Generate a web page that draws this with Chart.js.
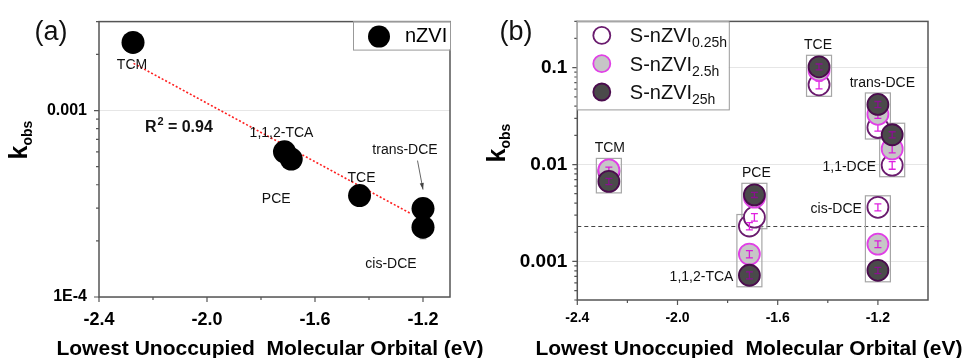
<!DOCTYPE html>
<html><head><meta charset="utf-8">
<script src="https://cdn.jsdelivr.net/npm/chart.js@4.4.0/dist/chart.umd.min.js"></script>
<style>
html,body{margin:0;padding:0;background:#fff;width:968px;height:358px;overflow:hidden}
canvas{position:absolute;left:0;top:0}
</style></head><body>
<canvas id="ca" width="968" height="358"></canvas>
<canvas id="cb" width="968" height="358"></canvas>
<script>
// ---------- Panel (a): nZVI ----------
const compoundsA = ['TCM', '1,1,2-TCA', 'PCE', 'TCE', 'trans-DCE', 'cis-DCE'];
const lumoA = [-2.274, -1.713, -1.688, -1.435, -1.2, -1.2];
const kNZVI = [0.00232, 0.000601, 0.000549, 0.00035, 0.000298, 0.000237];
const errNZVI = [0.00008, 0.00002, 0.00002, 0.00001, 0.00001, 0.000032];
const fitX = [-2.272, -1.243];
const fitY = [0.00179, 0.000279];
const r2Text = '0.94';
const xTicksA = [-2.4, -2.0, -1.6, -1.2];
const xMinorA = [-2.2, -1.8, -1.4];
const yTicksA = [0.0001, 0.001];
const yTickLabelsA = ['1E-4', '0.001'];

// ---------- Panel (b): S-nZVI ----------
const compoundsB = ['TCM', '1,1,2-TCA', 'PCE', 'TCE', 'trans-DCE', '1,1-DCE', 'cis-DCE'];
const lumoB = [-2.274, -1.713, -1.693, -1.435, -1.2, -1.143, -1.2];
const k025h = [0.0084, 0.00232, 0.00286, 0.0665, 0.0241, 0.00984, 0.00362];
const k25h_ = [0.0088, 0.00119, 0.0046, 0.094, 0.033, 0.0145, 0.00151];
const k25h = [0.0067, 0.00072, 0.00487, 0.102, 0.0417, 0.0203, 0.00081];
const err025h = [0.0006, 0.0002, 0.00025, 0.006, 0.002, 0.0009, 0.0003];
const err25h_ = [0.0006, 0.0001, 0.0003, 0.007, 0.003, 0.0013, 0.00012];
const err25h = [0.0005, 0.00006, 0.0003, 0.007, 0.003, 0.0015, 0.00006];
const refLine = 0.00232;
const seriesNamesB = ['S-nZVI', 'S-nZVI', 'S-nZVI'];
const seriesSubsB = ['0.25h', '2.5h', '25h'];
const xTicksB = [-2.4, -2.0, -1.6, -1.2];
const xMinorB = [-2.2, -1.8, -1.4];
const yTicksB = [0.001, 0.01, 0.1];
const yTickLabelsB = ['0.001', '0.01', '0.1'];

const FONT = "'Liberation Sans', Arial, Helvetica, sans-serif";
const AX = '#555';

function drawFrame(chart) {
  const {ctx, chartArea: a} = chart;
  ctx.save(); ctx.strokeStyle = AX; ctx.lineWidth = 1.5;
  ctx.strokeRect(a.left, a.top, a.right - a.left, a.bottom - a.top);
  ctx.restore();
}
function drawTicks(chart, xMaj, xMin) {
  const {ctx, chartArea: a, scales: {x, y}} = chart;
  ctx.save(); ctx.strokeStyle = AX; ctx.lineWidth = 1.2; ctx.beginPath();
  xMaj.forEach(v => { const p = x.getPixelForValue(v); ctx.moveTo(p, a.bottom); ctx.lineTo(p, a.bottom + 5); });
  xMin.forEach(v => { const p = x.getPixelForValue(v); ctx.moveTo(p, a.bottom); ctx.lineTo(p, a.bottom + 3); });
  const lo = y.min, hi = y.max;
  for (let e = Math.floor(Math.log10(lo)); e <= Math.ceil(Math.log10(hi)); e++) {
    for (let m = 1; m <= 9; m++) {
      const v = m * Math.pow(10, e);
      if (v < lo * 0.999 || v > hi * 1.001) continue;
      const p = y.getPixelForValue(v);
      ctx.moveTo(a.left, p); ctx.lineTo(a.left - (m === 1 ? 5 : 3), p);
    }
  }
  ctx.stroke(); ctx.restore();
}
function drawErr(chart, xs, ys, es, color, lw) {
  const {ctx, scales: {x, y}} = chart;
  ctx.save(); ctx.strokeStyle = color; ctx.lineWidth = lw; ctx.beginPath();
  xs.forEach((xv, i) => {
    const px = x.getPixelForValue(xv);
    const p1 = y.getPixelForValue(ys[i] + es[i]);
    const p2 = y.getPixelForValue(Math.max(ys[i] - es[i], 1e-9));
    ctx.moveTo(px, p1); ctx.lineTo(px, p2);
    ctx.moveTo(px - 3.5, p1); ctx.lineTo(px + 3.5, p1);
    ctx.moveTo(px - 3.5, p2); ctx.lineTo(px + 3.5, p2);
  });
  ctx.stroke(); ctx.restore();
}
function drawKobs(ctx, cx, cy) {
  ctx.save();
  ctx.translate(cx, cy); ctx.rotate(-Math.PI / 2);
  ctx.fillStyle = '#000'; ctx.textBaseline = 'alphabetic'; ctx.textAlign = 'left';
  ctx.font = 'bold 25px ' + FONT; const wk = ctx.measureText('k').width;
  ctx.font = 'bold 14px ' + FONT; const ws = ctx.measureText('obs').width;
  const x0 = -(wk + ws) / 2;
  ctx.font = 'bold 25px ' + FONT; ctx.fillText('k', x0, 0);
  ctx.font = 'bold 14px ' + FONT; ctx.fillText('obs', x0 + wk, 5);
  ctx.restore();
}
function drawXTitle(ctx, cx, base) {
  ctx.save(); ctx.fillStyle = '#000'; ctx.font = 'bold 21px ' + FONT;
  ctx.textAlign = 'center'; ctx.textBaseline = 'alphabetic';
  ctx.fillText('Lowest Unoccupied  Molecular Orbital (eV)', cx, base);
  ctx.restore();
}
function txt(ctx, s, x, y, align, font) {
  ctx.save(); ctx.fillStyle = '#111'; ctx.font = font || ('14px ' + FONT);
  ctx.textAlign = align || 'center'; ctx.textBaseline = 'middle';
  ctx.fillText(s, x, y); ctx.restore();
}

// ---------------- Chart A ----------------
const pluginA = {
  id: 'pa',
  beforeDatasetsDraw(chart) {
    drawErr(chart, lumoA, kNZVI, errNZVI, '#999', 1);
  },
  afterDatasetsDraw(chart) {
    const {ctx, chartArea: a, scales: {x, y}} = chart;
    drawFrame(chart); drawTicks(chart, xTicksA, xMinorA);
    const px = i => x.getPixelForValue(lumoA[i]);
    const py = i => y.getPixelForValue(kNZVI[i]);
    const offs = [[-1, 23], [-3, -19], [-15, 40], [2, -17], [-18, -58], [-32, 37]];
    compoundsA.forEach((c, i) => txt(ctx, c, px(i) + offs[i][0], py(i) + offs[i][1]));
    // arrow trans-DCE
    ctx.save(); ctx.strokeStyle = '#666'; ctx.fillStyle = '#444'; ctx.lineWidth = 1;
    const ax0 = px(4) - 5.5, ay0 = py(4) - 48, ax1 = px(4), ay1 = py(4) - 19;
    ctx.beginPath(); ctx.moveTo(ax0, ay0); ctx.lineTo(ax1, ay1); ctx.stroke();
    const ang = Math.atan2(ay1 - ay0, ax1 - ax0);
    ctx.beginPath(); ctx.moveTo(ax1, ay1);
    ctx.lineTo(ax1 - 7 * Math.cos(ang - 0.3), ay1 - 7 * Math.sin(ang - 0.3));
    ctx.lineTo(ax1 - 7 * Math.cos(ang + 0.3), ay1 - 7 * Math.sin(ang + 0.3));
    ctx.closePath(); ctx.fill(); ctx.restore();
    // R^2
    ctx.save(); ctx.fillStyle = '#111'; ctx.textBaseline = 'alphabetic'; ctx.textAlign = 'left';
    const rx = x.getPixelForValue(-2.23), ry = y.getPixelForValue(0.000826) + 6;
    ctx.font = 'bold 16px ' + FONT; ctx.fillText('R', rx, ry);
    const wr = ctx.measureText('R').width;
    ctx.font = 'bold 11px ' + FONT; ctx.fillText('2', rx + wr + 1, ry - 7);
    ctx.font = 'bold 16px ' + FONT; ctx.fillText(' = ' + r2Text, rx + wr + 7, ry);
    ctx.restore();
    // legend
    ctx.save();
    const lx0 = a.right - 97, ly0 = a.top, lw = 97, lh = 28;
    ctx.fillStyle = '#fff'; ctx.fillRect(lx0, ly0, lw, lh);
    ctx.strokeStyle = '#999'; ctx.lineWidth = 1; ctx.strokeRect(lx0 + 0.5, ly0 + 0.5, lw, lh);
    ctx.fillStyle = '#000'; ctx.beginPath(); ctx.arc(lx0 + 26, ly0 + 15, 11, 0, Math.PI * 2); ctx.fill();
    ctx.font = '20px ' + FONT; ctx.textBaseline = 'middle'; ctx.textAlign = 'left';
    ctx.fillText('nZVI', lx0 + 52, ly0 + 15);
    ctx.restore();
    // panel label, titles
    txt(ctx, '(a)', 51, 33, 'center', '27px ' + FONT);
    drawKobs(ctx, 27, 140);
    drawXTitle(ctx, 270, 355);
  }
};

new Chart(document.getElementById('ca'), {
  data: {
    datasets: [
      {type: 'scatter', label: 'nZVI', data: lumoA.map((v, i) => ({x: v, y: kNZVI[i]})),
       backgroundColor: '#000', borderColor: '#000', pointRadius: 11.5, borderWidth: 0, order: 1},
      {type: 'line', label: 'fit', data: fitX.map((v, i) => ({x: v, y: fitY[i]})),
       borderColor: '#ff2020', borderWidth: 1.6, borderDash: [2, 2], pointRadius: 0, fill: false, order: 2}
    ]
  },
  options: {
    responsive: false, animation: false, devicePixelRatio: 1, events: [],
    layout: {padding: {left: 0, top: 15, right: 518, bottom: 0}},
    plugins: {legend: {display: false}, tooltip: {enabled: false}},
    scales: {
      x: {type: 'linear', min: -2.4, max: -1.1,
          afterBuildTicks: s => { s.ticks = xTicksA.map(v => ({value: v})); },
          afterFit: s => { s.height = 61; },
          ticks: {callback: v => Number(v).toFixed(1), color: '#000', padding: 12, maxRotation: 0, autoSkip: false,
                  font: {family: FONT, size: 18, weight: 'bold'}},
          grid: {display: false, drawTicks: false}, border: {display: false}},
      y: {type: 'logarithmic', min: 0.0001, max: 0.003,
          afterBuildTicks: s => { s.ticks = yTicksA.map(v => ({value: v})); },
          afterFit: s => { s.width = 99; },
          ticks: {callback: v => yTickLabelsA[yTicksA.findIndex(t => Math.abs(t - v) / t < 1e-6)], color: '#000', padding: 12, autoSkip: false,
                  font: {family: FONT, size: 16, weight: 'bold'}},
          grid: {drawTicks: false, color: '#e6e6e6', lineWidth: 1}, border: {display: false}}
    }
  },
  plugins: [pluginA]
});

// ---------------- Chart B ----------------
const serB = [
  {k: k025h, e: err025h, fill: '#ffffff', stroke: '#6a1b6e', ecol: '#e020e0'},
  {k: k25h_, e: err25h_, fill: '#c6c6c6', stroke: '#e040e6', ecol: '#d81ed8'},
  {k: k25h, e: err25h, fill: '#4a4a4a', stroke: '#4b0c4e', ecol: '#8a1090'}
];
const pluginB = {
  id: 'pb',
  beforeDatasetsDraw(chart) {
    const {ctx, chartArea: a, scales: {x, y}} = chart;
    ctx.save(); ctx.strokeStyle = '#444'; ctx.lineWidth = 1; ctx.setLineDash([4, 3]);
    const ry = Math.round(y.getPixelForValue(refLine)) + 0.5;
    ctx.beginPath(); ctx.moveTo(a.left, ry); ctx.lineTo(a.right, ry); ctx.stroke(); ctx.restore();
    ctx.save(); ctx.strokeStyle = '#a6a6a6'; ctx.lineWidth = 1.2;
    lumoB.forEach((xv, i) => {
      const px = x.getPixelForValue(xv);
      const ps = serB.map(s => y.getPixelForValue(s.k[i]));
      const top = Math.min(...ps) - 11.5, bot = Math.max(...ps) + 11.5;
      ctx.strokeRect(px - 12.5, top, 25, bot - top);
    });
    ctx.restore();
  },
  afterDatasetDraw(chart, args) {
    const s = serB[args.index];
    drawErr(chart, lumoB, s.k, s.e, s.ecol, 1.3);
  },
  afterDatasetsDraw(chart) {
    const {ctx, chartArea: a, scales: {x, y}} = chart;
    drawFrame(chart); drawTicks(chart, xTicksB, xMinorB);
    const place = ['top', 'left2', 'top', 'top', 'top', 'left0', 'left0'];
    const dxTop = [1, 0, 2, -1, 4.5, 0, 0];
    compoundsB.forEach((c, i) => {
      const px = x.getPixelForValue(lumoB[i]);
      const ps = serB.map(s => y.getPixelForValue(s.k[i]));
      if (place[i] === 'top') txt(ctx, c, px + dxTop[i], Math.min(...ps) - 21.5);
      else {
        const si = place[i] === 'left2' ? 2 : 0;
        txt(ctx, c, px - 16, ps[si] + 1.5, 'right');
      }
    });
    ctx.save();
    const lx0 = a.left - 0.5, ly0 = a.top, lw = 152, lh = 88;
    ctx.fillStyle = '#fff'; ctx.fillRect(lx0, ly0, lw, lh);
    ctx.strokeStyle = '#999'; ctx.lineWidth = 1; ctx.strokeRect(lx0 + 0.5, ly0 + 0.5, lw, lh);
    serB.forEach((s, j) => {
      const cy = ly0 + 14 + j * 28.3;
      ctx.beginPath(); ctx.arc(lx0 + 25, cy, 8.5, 0, Math.PI * 2);
      ctx.fillStyle = s.fill; ctx.fill(); ctx.lineWidth = 1.8; ctx.strokeStyle = s.stroke; ctx.stroke();
      ctx.fillStyle = '#111'; ctx.textAlign = 'left'; ctx.textBaseline = 'alphabetic';
      ctx.font = '20px ' + FONT; ctx.fillText(seriesNamesB[j], lx0 + 53, cy + 7);
      const w = ctx.measureText(seriesNamesB[j]).width;
      ctx.font = '14px ' + FONT; ctx.fillText(seriesSubsB[j], lx0 + 53 + w, cy + 12);
    });
    ctx.restore();
    txt(ctx, '(b)', 516, 33, 'center', '27px ' + FONT);
    drawKobs(ctx, 505, 143);
    drawXTitle(ctx, 749, 355);
  }
};

new Chart(document.getElementById('cb'), {
  type: 'scatter',
  data: {
    datasets: serB.map((s, j) => ({
      label: seriesNamesB[j] + seriesSubsB[j],
      data: lumoB.map((v, i) => ({x: v, y: s.k[i]})),
      backgroundColor: s.fill, borderColor: s.stroke, borderWidth: 1.8, pointRadius: 10.5, order: 3 - j
    }))
  },
  options: {
    responsive: false, animation: false, devicePixelRatio: 1, events: [],
    layout: {padding: {left: 484, top: 18, right: 40, bottom: 0}},
    plugins: {legend: {display: false}, tooltip: {enabled: false}},
    scales: {
      x: {type: 'linear', min: -2.4, max: -1.0,
          afterBuildTicks: s => { s.ticks = xTicksB.map(v => ({value: v})); },
          afterFit: s => { s.height = 58; },
          ticks: {callback: v => Number(v).toFixed(1), color: '#000', padding: 10, maxRotation: 0, autoSkip: false,
                  font: {family: FONT, size: 14, weight: 'bold'}},
          grid: {display: false, drawTicks: false}, border: {display: false}},
      y: {type: 'logarithmic', min: 0.0004, max: 0.3,
          afterBuildTicks: s => { s.ticks = yTicksB.map(v => ({value: v})); },
          afterFit: s => { s.width = 93.3; },
          ticks: {callback: v => yTickLabelsB[yTicksB.findIndex(t => Math.abs(t - v) / t < 1e-6)], color: '#000', padding: 10, autoSkip: false,
                  font: {family: FONT, size: 19, weight: 'bold'}},
          grid: {drawTicks: false, color: '#e6e6e6', lineWidth: 1}, border: {display: false}}
    }
  },
  plugins: [pluginB]
});
</script>
</body></html>
